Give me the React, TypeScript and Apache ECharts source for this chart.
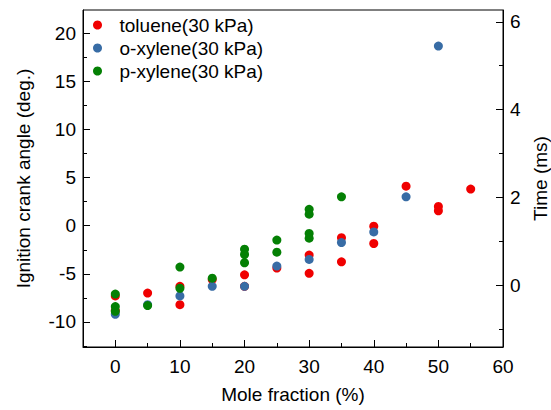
import React, { useEffect, useRef } from "react";
import * as echarts from "echarts";

const toluene: [number, number][] = [
  [0, -7.3], [0, -8.8], [5, -7.0], [10, -6.3], [10, -8.2], [15, -5.6],
  [20, -5.1], [20, -6.3], [25, -4.4], [30, -3.05], [30, -4.95], [35, -1.25],
  [35, -3.75], [40, -0.05], [40, -1.85], [45, 4.1], [50, 2.0], [50, 1.55], [55, 3.8],
];
const oXylene: [number, number][] = [
  [0, -9.2], [5, -8.2], [10, -7.3], [15, -6.3], [20, -6.3], [25, -4.2],
  [30, -3.5], [35, -1.75], [40, -0.65], [45, 3.0], [50, 18.65],
];
const pXylene: [number, number][] = [
  [0, -7.1], [0, -8.4], [0, -8.9], [5, -8.3], [10, -4.3], [10, -6.5], [15, -5.45],
  [20, -2.45], [20, -3.0], [20, -3.85], [25, -1.5], [25, -2.75],
  [30, 1.7], [30, 1.2], [30, -0.8], [30, -1.3], [35, 3.0],
];

const seriesNames = ["toluene(30 kPa)", "o-xylene(30 kPa)", "p-xylene(30 kPa)"];
const xMajor = [0, 10, 20, 30, 40, 50, 60];
const xMinor = [5, 15, 25, 35, 45, 55];
const yMajor = [-10, -5, 0, 5, 10, 15, 20];
const yMinor = [-12.5, -7.5, -2.5, 2.5, 7.5, 12.5, 17.5];
const y2Major = [0, 2, 4, 6];
const y2Minor = [-1, 1, 3, 5];

const FONT = "Liberation Sans";

export default function App() {
  const ref = useRef<HTMLDivElement>(null);
  useEffect(() => {
    if (!ref.current) return;
    const chart = echarts.init(ref.current, undefined, { renderer: "svg" });
    const black = "#000";
    const lbl = { color: black, fontSize: 19, fontFamily: FONT };
    const xRange = { min: -5, max: 60 };
    const yRange = { min: -12.6, max: 22.4 };
    const y2Range = { min: -1.41, max: 6.27 };
    chart.setOption({
      animation: false,
      backgroundColor: "#fff",
      grid: {
        left: 83,
        right: 48,
        top: 10,
        bottom: 63,
        containLabel: false,
        outerBoundsMode: "none",
        show: true,
        borderColor: black,
        borderWidth: 1,
        backgroundColor: "transparent",
      },
      legend: {
        orient: "vertical",
        left: 88,
        top: 10,
        itemWidth: 34,
        itemHeight: 9,
        itemGap: 3,
        icon: "circle",
        data: seriesNames,
        textStyle: { ...lbl, fontSize: 19, lineHeight: 20 },
      },
      xAxis: [
        {
          type: "value",
          ...xRange,
          position: "bottom",
          name: "Mole fraction (%)",
          nameLocation: "middle",
          nameGap: 38,
          nameTextStyle: lbl,
          axisLine: { show: true, onZero: false, lineStyle: { color: black, width: 1 } },
          axisTick: { show: true, inside: true, length: 7, customValues: xMajor, lineStyle: { color: black } },
          axisLabel: { ...lbl, margin: 10, customValues: xMajor },
          splitLine: { show: false },
        },
        {
          type: "value",
          ...xRange,
          position: "bottom",
          axisLine: { show: false, onZero: false },
          axisTick: { show: true, inside: true, length: 4, customValues: xMinor, lineStyle: { color: black } },
          axisLabel: { show: false },
          splitLine: { show: false },
        },
      ],
      yAxis: [
        {
          type: "value",
          ...yRange,
          position: "left",
          name: "Ignition crank angle (deg.)",
          nameLocation: "middle",
          nameRotate: 90,
          nameGap: 50,
          nameTextStyle: lbl,
          axisLine: { show: true, onZero: false, lineStyle: { color: black, width: 1 } },
          axisTick: { show: true, inside: true, length: 7, customValues: yMajor, lineStyle: { color: black } },
          axisLabel: { ...lbl, margin: 7, customValues: yMajor },
          splitLine: { show: false },
        },
        {
          type: "value",
          ...yRange,
          position: "left",
          axisLine: { show: false, onZero: false },
          axisTick: { show: true, inside: true, length: 4, customValues: yMinor, lineStyle: { color: black } },
          axisLabel: { show: false },
          splitLine: { show: false },
        },
        {
          type: "value",
          ...y2Range,
          position: "right",
          name: "Time (ms)",
          nameLocation: "middle",
          nameRotate: 90,
          nameGap: 27,
          nameTextStyle: lbl,
          axisLine: { show: true, onZero: false, lineStyle: { color: black, width: 1 } },
          axisTick: { show: true, inside: true, length: 7, customValues: y2Major, lineStyle: { color: black } },
          axisLabel: { ...lbl, margin: 7, customValues: y2Major },
          splitLine: { show: false },
        },
        {
          type: "value",
          ...y2Range,
          position: "right",
          axisLine: { show: false, onZero: false },
          axisTick: { show: true, inside: true, length: 4, customValues: y2Minor, lineStyle: { color: black } },
          axisLabel: { show: false },
          splitLine: { show: false },
        },
      ],
      series: [
        { name: seriesNames[0], type: "scatter", data: toluene, symbolSize: 9, itemStyle: { color: "#f00000", opacity: 1 } },
        { name: seriesNames[1], type: "scatter", data: oXylene, symbolSize: 9, itemStyle: { color: "#386ca5", opacity: 1 } },
        { name: seriesNames[2], type: "scatter", data: pXylene, symbolSize: 9, itemStyle: { color: "#048004", opacity: 1 } },
      ],
    });
    return () => chart.dispose();
  }, []);
  return (
    <div
      ref={ref}
      style={{ position: "absolute", left: 0, top: 0, width: 551, height: 410, background: "#fff" }}
    />
  );
}
